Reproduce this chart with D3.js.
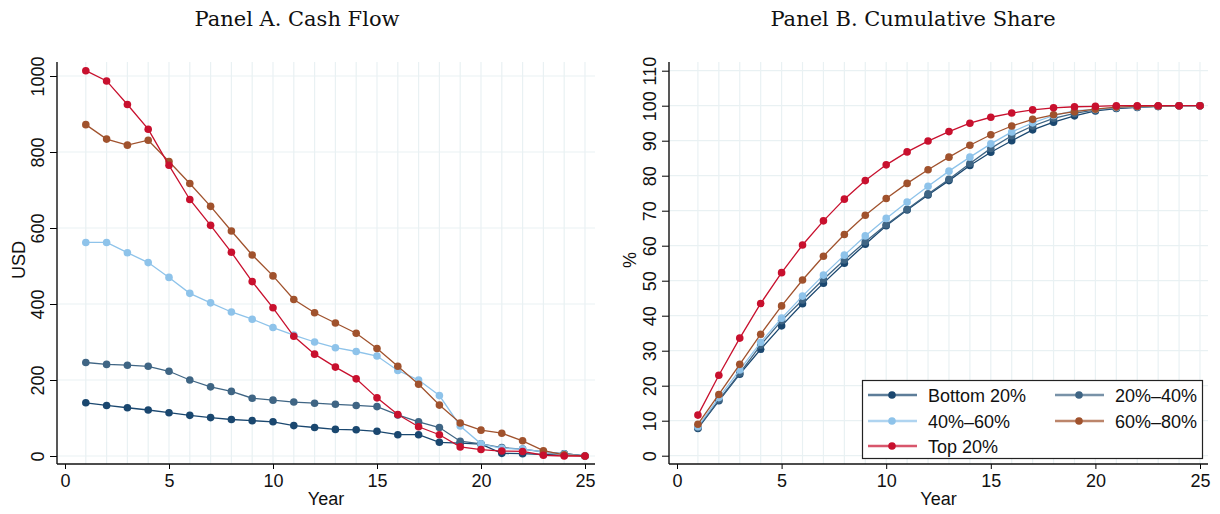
<!DOCTYPE html>
<html>
<head>
<meta charset="utf-8">
<script src="https://cdn.jsdelivr.net/npm/d3@7"></script>
<style>
  html, body { margin: 0; padding: 0; background: #fff; }
  svg text { font-family: "Liberation Sans", Arial, sans-serif; fill: #111; }
  .title { font-family: "DejaVu Serif", serif; font-size: 21px; }
</style>
</head>
<body>
<svg id="chart" width="1220" height="514"></svg>
<script>
const years = d3.range(1, 26);
const groups = ['Bottom 20%', '20%\u201340%', '40%\u201360%', '60%\u201380%', 'Top 20%'];
const colors = ['#1a476f', '#3f6584', '#8ec3ea', '#a0522d', '#c8102e'];

// Panel A: cash flow, USD
const cashBottom = [140, 133, 127, 121, 114, 107, 101, 96, 93, 90, 80, 75, 70, 69, 65, 56, 56, 36, 34, 31, 7, 6, 4, 6, 0];
const cash2040 = [246, 241, 239, 236, 223, 200, 182, 170, 152, 147, 142, 139, 136, 133, 130, 108, 90, 75, 39, 32, 22, 18, 11, 6, 0];
const cash4060 = [562, 562, 535, 509, 470, 428, 403, 379, 360, 338, 318, 300, 285, 275, 263, 225, 200, 159, 79, 32, 20, 18, 11, 5, 0];
const cash6080 = [872, 834, 818, 831, 775, 717, 657, 592, 529, 474, 412, 377, 350, 323, 283, 236, 189, 134, 87, 68, 60, 40, 14, 3, 0];
const cashTop = [1014, 987, 925, 860, 765, 675, 607, 536, 459, 390, 315, 268, 234, 203, 153, 109, 77, 56, 24, 17, 13, 12, 2, 0, 0];

// Panel B: cumulative share, %
const cumBottom = [7.8, 15.7, 23.3, 30.4, 37.1, 43.4, 49.3, 55.0, 60.4, 65.7, 70.2, 74.5, 78.6, 82.9, 86.7, 90.0, 93.1, 95.3, 97.1, 98.5, 99.2, 99.5, 99.8, 100, 100];
const cum2040 = [8.0, 15.9, 23.6, 31.6, 38.6, 44.5, 50.4, 55.9, 61.1, 66.0, 70.4, 74.8, 79.0, 83.5, 87.8, 91.4, 94.2, 96.4, 97.8, 98.8, 99.3, 99.6, 99.8, 100, 100];
const cum4060 = [8.3, 16.6, 24.5, 32.4, 39.3, 45.6, 51.6, 57.3, 62.8, 67.8, 72.5, 77.0, 81.3, 85.3, 89.1, 92.5, 95.1, 97.2, 98.6, 98.9, 99.5, 99.7, 99.9, 100, 100];
const cum6080 = [9.0, 17.5, 26.1, 34.7, 42.8, 50.2, 57.0, 63.2, 68.7, 73.5, 77.8, 81.7, 85.3, 88.7, 91.7, 94.2, 96.1, 97.4, 98.3, 99.0, 99.6, 99.8, 99.9, 100, 100];
const cumTop = [11.6, 23.0, 33.6, 43.5, 52.3, 60.2, 67.1, 73.3, 78.6, 83.1, 86.8, 89.9, 92.6, 95.0, 96.7, 97.9, 98.8, 99.4, 99.7, 99.8, 100, 100, 100, 100, 100];

const xTicks = [0, 5, 10, 15, 20, 25];
const yTicksA = [0, 200, 400, 600, 800, 1000];
const yTicksB = [0, 10, 20, 30, 40, 50, 60, 70, 80, 90, 100, 110];

const svg = d3.select('#chart');

function drawPanel(opt) {
  const g = svg.append('g');
  const x = d3.scaleLinear().domain([0, 25]).range(opt.xRange);
  const y = d3.scaleLinear().domain(opt.yDomain).range(opt.yRange);
  const [L, R, T, B] = opt.box;

  // grid
  g.append('g').selectAll('line').data(opt.yTicks).enter().append('line')
    .attr('x1', L).attr('x2', R).attr('y1', d => y(d)).attr('y2', d => y(d))
    .attr('stroke', '#e9f1f3').attr('stroke-width', 1.2);
  g.append('g').selectAll('line').data(years).enter().append('line')
    .attr('x1', d => x(d)).attr('x2', d => x(d)).attr('y1', T).attr('y2', B)
    .attr('stroke', '#e9f1f3').attr('stroke-width', 1.2);

  // axes
  const xAxis = g.append('g').attr('transform', `translate(0,${B})`)
    .call(d3.axisBottom(x).tickValues(xTicks).tickSize(5).tickFormat(d3.format('d')));
  xAxis.select('.domain').remove();
  xAxis.selectAll('text').attr('y', 23).attr('dy', 0).style('font-size', '18px');

  const yAxis = g.append('g').attr('transform', `translate(${L},0)`)
    .call(d3.axisLeft(y).tickValues(opt.yTicks).tickSize(7).tickFormat(d3.format('d')));
  yAxis.select('.domain').remove();
  yAxis.selectAll('text').attr('transform', 'rotate(-90)').attr('x', 0).attr('y', -13).attr('dy', 0)
    .style('text-anchor', 'middle').style('font-size', '18px');

  g.append('line').attr('x1', L).attr('x2', R).attr('y1', B).attr('y2', B).attr('stroke', '#111').attr('stroke-width', 1.4);
  g.append('line').attr('x1', L).attr('x2', L).attr('y1', T).attr('y2', B).attr('stroke', '#111').attr('stroke-width', 1.4);

  // series
  const line = d3.line().x((d, i) => x(years[i])).y(d => y(d));
  opt.series.forEach((vals, k) => {
    g.append('path').datum(vals).attr('d', line).attr('fill', 'none')
      .attr('stroke', colors[k]).attr('stroke-width', 1.3);
    g.append('g').selectAll('circle').data(vals).enter().append('circle')
      .attr('cx', (d, i) => x(years[i])).attr('cy', d => y(d)).attr('r', 3.8)
      .attr('fill', colors[k]);
  });

  // labels
  svg.append('text').attr('class', 'title').attr('x', opt.titleX).attr('y', 26)
    .attr('text-anchor', 'middle').text(opt.title);
  svg.append('text').attr('x', (L + R) / 2).attr('y', 505).attr('text-anchor', 'middle')
    .style('font-size', '18px').text('Year');
  svg.append('text').attr('transform', `translate(${opt.yLabelX},260) rotate(-90)`)
    .attr('text-anchor', 'middle').style('font-size', '18px').text(opt.yLabel);
}

drawPanel({
  title: 'Panel A. Cash Flow', titleX: 297, yLabel: 'USD', yLabelX: 25,
  xRange: [65, 585], yDomain: [0, 1000], yRange: [456, 76], box: [57, 595, 62, 464],
  yTicks: yTicksA, series: [cashBottom, cash2040, cash4060, cash6080, cashTop]
});
drawPanel({
  title: 'Panel B. Cumulative Share', titleX: 913, yLabel: '%', yLabelX: 636,
  xRange: [677, 1200], yDomain: [0, 110], yRange: [455.7, 70.7], box: [669, 1208, 62, 464],
  yTicks: yTicksB, series: [cumBottom, cum2040, cum4060, cum6080, cumTop]
});

// legend
const leg = svg.append('g');
leg.append('rect').attr('x', 862.5).attr('y', 380.5).attr('width', 340).attr('height', 78)
  .attr('fill', '#fff').attr('stroke', '#222').attr('stroke-width', 1.2);
const legPos = [[892, 395], [1079, 395], [892, 421], [1079, 421], [892, 446]];
groups.forEach((name, k) => {
  const [cx, cy] = legPos[k];
  leg.append('line').attr('x1', cx - 24).attr('x2', cx + 25).attr('y1', cy).attr('y2', cy)
    .attr('stroke', colors[k]).attr('stroke-width', 2.6).attr('opacity', 0.7);
  leg.append('circle').attr('cx', cx).attr('cy', cy).attr('r', 3.8).attr('fill', colors[k]);
  leg.append('text').attr('x', cx + 36).attr('y', cy + 6.5).style('font-size', '18px').text(name);
});
</script>
</body>
</html>
